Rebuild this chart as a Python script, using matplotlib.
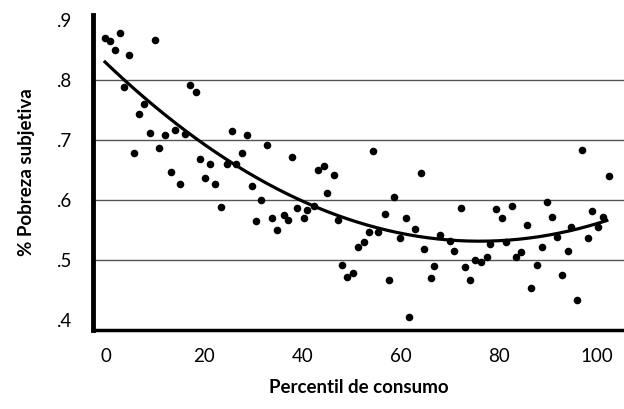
import numpy as np
import matplotlib.pyplot as plt

# percentil de consumo vs % pobreza subjetiva
percentil = [-0.2, 0.9, 1.8, 2.8, 3.6, 4.7, 5.7, 6.8, 7.8, 8.9,
             10.0, 10.8, 12.0, 13.2, 14.0, 15.1, 16.0, 17.2, 18.3, 19.1,
             20.2, 21.2, 22.3, 23.4, 24.6, 25.6, 26.5, 27.6, 28.7, 29.7,
             30.6, 31.6, 32.7, 33.8, 34.8, 36.2, 37.1, 37.9, 39.0, 40.3,
             40.9, 42.3, 43.2, 44.4, 45.1, 46.4, 47.2, 48.1, 49.1, 50.3,
             51.3, 52.5, 53.6, 54.4, 55.5, 56.8, 57.6, 58.7, 59.8, 61.0,
             61.7, 62.9, 64.1, 64.8, 66.1, 66.9, 68.1, 70.1, 70.9, 72.3,
             73.1, 74.2, 75.1, 76.4, 77.5, 78.3, 79.5, 80.7, 81.5, 82.7,
             83.6, 84.6, 85.7, 86.5, 87.7, 88.8, 89.8, 90.8, 91.9, 92.9,
             94.0, 94.8, 96.0, 97.0, 98.1, 98.9, 100.2, 101.3, 102.5]
pobreza = [0.870, 0.865, 0.850, 0.878, 0.789, 0.841, 0.679, 0.743, 0.760, 0.711,
           0.867, 0.686, 0.709, 0.647, 0.716, 0.627, 0.710, 0.792, 0.780, 0.669,
           0.636, 0.659, 0.627, 0.588, 0.660, 0.715, 0.660, 0.679, 0.708, 0.623,
           0.565, 0.600, 0.691, 0.569, 0.549, 0.574, 0.567, 0.672, 0.587, 0.570,
           0.583, 0.590, 0.649, 0.657, 0.612, 0.642, 0.566, 0.492, 0.471, 0.478,
           0.521, 0.530, 0.546, 0.681, 0.547, 0.576, 0.467, 0.604, 0.537, 0.569,
           0.405, 0.551, 0.644, 0.518, 0.469, 0.490, 0.542, 0.532, 0.515, 0.587,
           0.488, 0.467, 0.500, 0.496, 0.504, 0.526, 0.585, 0.569, 0.530, 0.589,
           0.504, 0.513, 0.558, 0.453, 0.492, 0.522, 0.597, 0.572, 0.538, 0.475,
           0.514, 0.554, 0.433, 0.683, 0.536, 0.581, 0.554, 0.572, 0.640]

# puntos leidos sobre la curva de ajuste
curva_x = [-0.2, 18, 40, 76.5, 102]
curva_y = [0.832, 0.700, 0.600, 0.532, 0.565]

xticks = [0, 20, 40, 60, 80, 100]
yticks = [0.4, 0.5, 0.6, 0.7, 0.8, 0.9]
ytick_labels = ['.4', '.5', '.6', '.7', '.8', '.9']
grid_levels = [0.5, 0.6, 0.7, 0.8]

plt.rcParams['font.family'] = ['Lato', 'DejaVu Sans']

fig = plt.figure(figsize=(6.24, 4.09), dpi=100)
ax = fig.add_axes([0.149, 0.193, 0.851, 0.770])

for g in grid_levels:
    ax.axhline(g, color='#555555', lw=1.0, zorder=1)

ax.scatter(percentil, pobreza, s=30, color='black', zorder=3, linewidths=0)

# ajuste cuadratico
coef = np.polyfit(curva_x, curva_y, 2)
xs = np.linspace(curva_x[0], curva_x[-1], 200)
ax.plot(xs, np.polyval(coef, xs), color='black', lw=2.3, zorder=4)

ax.set_xlim(-2.65, 105.5)
ax.set_ylim(0.383, 0.908)
ax.set_xticks(xticks)
ax.set_yticks(yticks)
ax.set_yticklabels(ytick_labels)
ax.tick_params(length=0, labelsize=13.5, colors='black')
ax.tick_params(axis='y', pad=15)
ax.tick_params(axis='x', pad=13)

for s in ['top', 'right']:
    ax.spines[s].set_visible(False)
ax.spines['left'].set_linewidth(3.5)
ax.spines['bottom'].set_linewidth(2.5)

ax.set_xlabel('Percentil de consumo', fontsize=13.5, fontweight='bold', labelpad=10)
ax.set_ylabel('% Pobreza subjetiva', fontsize=13.5, fontweight='bold', labelpad=16)

fig.savefig('out.png', dpi=100)
